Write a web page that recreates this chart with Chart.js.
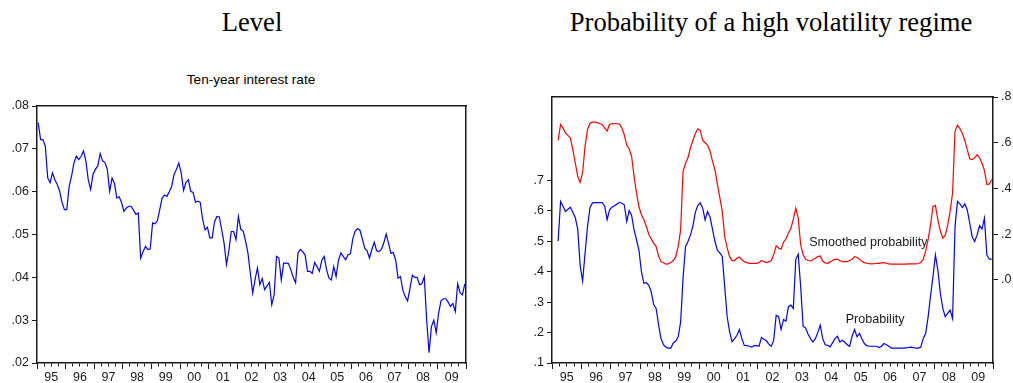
<!DOCTYPE html>
<html><head><meta charset="utf-8">
<script src="https://cdn.jsdelivr.net/npm/chart.js@4/dist/chart.umd.min.js"></script>
<style>
html,body{margin:0;padding:0;background:#fff;width:1013px;height:383px;overflow:hidden;position:relative}
.t{position:absolute;font-family:"Liberation Serif","Times New Roman",serif;font-size:26.6px;line-height:30px;color:#000;white-space:nowrap;transform:translateX(-50%)}
.s{position:absolute;font-family:"Liberation Sans",Arial,sans-serif;font-size:13.6px;line-height:16px;color:#000;white-space:nowrap;transform:translateX(-50%)}
#w1{position:absolute;left:0;top:0;width:500px;height:383px}
#w2{position:absolute;left:500px;top:0;width:513px;height:383px}
</style></head>
<body>
<div class="t" style="left:252px;top:7px">Level</div>
<div class="s" style="left:251px;top:72px">Ten-year interest rate</div>
<div class="t" style="left:771px;top:7px">Probability of a high volatility regime</div>
<div id="w1"><canvas id="c1"></canvas></div>
<div id="w2"><canvas id="c2"></canvas></div>
<script>
// ---------- data ----------
const START_YEAR = 1995;
const YEAR_LABELS = ['95','96','97','98','99','00','01','02','03','04','05','06','07','08','09'];
const RATE_TICKS = [0.02,0.03,0.04,0.05,0.06,0.07,0.08];
const PROB_TICKS = [0.1,0.2,0.3,0.4,0.5,0.6,0.7];
const SMOOTH_TICKS = [0.0,0.2,0.4,0.6,0.8];

// Ten-year interest rate, monthly Jan 1995 - Dec 2009
const interestRate = [
.0761,.0722,.0721,.0706,.0632,.0621,.0644,.0628,.0617,.0601,.0575,.0558,
.0558,.0613,.0636,.0667,.0683,.0675,.0682,.0695,.0672,.0628,.0605,.0640,
.0652,.0660,.0689,.0672,.0668,.0652,.0601,.0632,.0619,.0585,.0588,.0574,
.0554,.0562,.0566,.0566,.0557,.0547,.0550,.0445,.0460,.0472,.0465,.0466,
.0527,.0525,.0532,.0558,.0585,.0592,.0589,.0600,.0612,.0640,.0652,.0667,
.0644,.0603,.0622,.0628,.0601,.0598,.0575,.0578,.0575,.0535,.0511,.0517,
.0492,.0492,.0530,.0542,.0541,.0511,.0480,.0430,.0462,.0507,.0507,.0488,
.0542,.0512,.0508,.0485,.0457,.0410,.0363,.0395,.0422,.0383,.0397,.0371,
.0380,.0388,.0336,.0359,.0449,.0445,.0394,.0433,.0433,.0432,.0418,.0400,
.0387,.0457,.0465,.0460,.0452,.0414,.0414,.0409,.0435,.0425,.0414,.0440,
.0449,.0418,.0398,.0394,.0425,.0402,.0440,.0457,.0449,.0441,.0453,.0455,
.0490,.0508,.0514,.0510,.0490,.0468,.0462,.0445,.0465,.0482,.0462,.0460,
.0465,.0480,.0501,.0480,.0456,.0458,.0440,.0398,.0402,.0370,.0355,.0345,
.0375,.0405,.0400,.0400,.0383,.0385,.0401,.0300,.0224,.0285,.0300,.0271,
.0316,.0345,.0350,.0350,.0342,.0332,.0339,.0320,.0385,.0364,.0359,.0385
];

// Probability of high volatility regime (left axis)
const probability = [
null,null,.501,.631,.615,.598,.605,.612,.595,.578,.540,.420,
.369,.461,.548,.610,.626,.627,.627,.627,.627,.615,.571,.603,
.612,.617,.622,.628,.625,.620,.565,.601,.585,.537,.505,.470,
.400,.362,.364,.355,.334,.292,.279,.225,.180,.160,.152,.149,
.149,.166,.172,.185,.235,.380,.482,.499,.520,.550,.595,.617,
.626,.609,.570,.598,.580,.540,.500,.470,.462,.450,.350,.252,
.202,.170,.180,.191,.210,.180,.158,.157,.155,.152,.157,.157,
.155,.184,.178,.173,.162,.155,.175,.257,.252,.210,.243,.237,
.285,.290,.279,.440,.458,.351,.220,.215,.195,.180,.169,.180,
.200,.224,.180,.160,.158,.153,.166,.180,.188,.169,.175,.168,
.160,.155,.188,.210,.186,.197,.180,.164,.157,.155,.155,.155,
.155,.151,.155,.164,.160,.155,.149,.149,.149,.149,.149,.149,
.150,.151,.152,.151,.149,.149,.152,.180,.197,.250,.320,.384,
.455,.405,.330,.280,.252,.263,.274,.246,.548,.631,.623,.611,
.623,.603,.560,.515,.499,.520,.551,.540,.576,.455,.441,.441
];

// Smoothed probability (right axis)
const smoothedProbability = [
null,null,.610,.680,.665,.643,.632,.621,.570,.512,.453,.427,
.470,.585,.658,.685,.690,.690,.688,.684,.680,.665,.651,.680,
.684,.684,.683,.682,.665,.635,.590,.573,.540,.453,.380,.320,
.285,.263,.234,.200,.180,.160,.146,.105,.080,.075,.069,.070,
.076,.085,.102,.146,.219,.475,.510,.534,.578,.610,.640,.661,
.655,.610,.600,.590,.563,.520,.482,.420,.360,.300,.190,.140,
.102,.085,.085,.095,.100,.088,.080,.076,.073,.073,.073,.073,
.076,.085,.080,.076,.080,.085,.110,.149,.140,.135,.165,.180,
.205,.225,.265,.314,.270,.154,.110,.091,.085,.083,.088,.095,
.102,.105,.082,.075,.073,.078,.085,.090,.091,.085,.080,.080,
.080,.085,.091,.102,.098,.091,.082,.076,.073,.071,.070,.071,
.073,.073,.075,.076,.073,.070,.069,.069,.069,.069,.069,.069,
.069,.070,.070,.070,.070,.072,.076,.090,.125,.175,.240,.322,
.326,.263,.215,.183,.195,.240,.300,.380,.650,.677,.662,.640,
.610,.570,.530,.526,.534,.548,.535,.510,.480,.417,.420,.439
];

// ---------- helpers ----------
const monthX = (i) => START_YEAR + (i + 0.5) / 12;
const toXY = (arr) => arr.map((v, i) => ({x: monthX(i), y: v}));
const X_MIN = START_YEAR, X_MAX = START_YEAR + YEAR_LABELS.length;
const quarterTicks = [];
for (let q = 0; q <= YEAR_LABELS.length * 4; q++) quarterTicks.push({value: X_MIN + q / 4});
const FONT = {family: '"Liberation Sans", Arial, sans-serif', size: 12.5};
const INK = '#1a1a1a';
const fixW = (w) => (s) => { s.width = w; };
const fixH = (h) => (s) => { s.height = h; };
const isYear = (v) => Math.abs(v - Math.round(v)) < 1e-6;
const isMid = (v) => Math.abs(v - Math.floor(v) - 0.5) < 1e-6;

function bottomX(){
  return {
    type: 'linear', position: 'bottom', min: X_MIN, max: X_MAX,
    afterBuildTicks: (s) => { s.ticks = quarterTicks.map(t => ({value: t.value})); },
    afterFit: fixH(20),
    grid: {display: true, drawOnChartArea: false, drawTicks: true, tickLength: 6, color: INK, lineWidth: 1,
           tickBorderDash: (ctx) => (ctx.tick && isYear(ctx.tick.value)) ? [] : [3, 20]},
    border: {display: true, color: INK, width: 1.5},
    ticks: {autoSkip: false, maxRotation: 0, minRotation: 0, padding: 1, color: INK, font: FONT,
            callback: (v) => isMid(v) ? YEAR_LABELS[Math.floor(v) - START_YEAR] : ''}
  };
}
function topX(){
  return {
    type: 'linear', position: 'top', min: X_MIN, max: X_MAX, afterFit: fixH(0),
    grid: {display: true, drawOnChartArea: false, drawTicks: false},
    border: {display: true, color: INK, width: 1.5},
    ticks: {display: false}
  };
}
function yAxis(pos, min, max, tickVals, digits, width, showTicks){
  return {
    type: 'linear', position: pos, min: min, max: max,
    afterBuildTicks: (s) => { s.ticks = tickVals.map(v => ({value: v})); },
    afterFit: fixW(width),
    grid: {display: true, drawOnChartArea: false, drawTicks: showTicks, tickLength: 5, color: INK},
    border: {display: true, color: INK, width: 1.5},
    ticks: {display: showTicks, padding: 3, color: INK, font: FONT,
            callback: (v) => v.toFixed(digits).replace(/^0\./, '.')}
  };
}

const textLabels = {
  id: 'textLabels',
  afterDatasetsDraw(chart, args, opts){
    const c = chart.ctx;
    c.save();
    c.fillStyle = INK;
    c.font = '12.6px "Liberation Sans", Arial, sans-serif';
    c.textAlign = 'center'; c.textBaseline = 'middle';
    (opts.items || []).forEach(it => {
      const x = chart.scales.x.getPixelForValue(it.x);
      const y = chart.scales[it.axis].getPixelForValue(it.y);
      c.fillText(it.text, x, y);
    });
    c.restore();
  }
};

Chart.defaults.animation = false;

new Chart(document.getElementById('c1'), {
  type: 'line',
  data: {datasets: [{
    label: 'Ten-year interest rate', data: toXY(interestRate), yAxisID: 'y',
    borderColor: '#0000ff', borderWidth: 1.2, pointRadius: 0, tension: 0, fill: false
  }]},
  options: {
    responsive: true, maintainAspectRatio: false, devicePixelRatio: 1,
    layout: {padding: {top: 106, left: 0, right: 0, bottom: 0}},
    plugins: {legend: {display: false}, tooltip: {enabled: false}},
    scales: {
      x: bottomX(), xt: topX(),
      y: yAxis('left', 0.02, 0.08, RATE_TICKS, 2, 37, true),
      yr: yAxis('right', 0.02, 0.08, [], 2, 34, false)
    }
  }
});

new Chart(document.getElementById('c2'), {
  type: 'line',
  data: {datasets: [
    {label: 'Smoothed probability', data: toXY(smoothedProbability), yAxisID: 'yr',
     borderColor: '#ff0000', borderWidth: 1.2, pointRadius: 0, tension: 0, fill: false},
    {label: 'Probability', data: toXY(probability), yAxisID: 'y',
     borderColor: '#0000ff', borderWidth: 1.2, pointRadius: 0, tension: 0, fill: false}
  ]},
  plugins: [textLabels],
  options: {
    responsive: true, maintainAspectRatio: false, devicePixelRatio: 1,
    layout: {padding: {top: 97, left: 0, right: 0, bottom: 0}},
    plugins: {legend: {display: false}, tooltip: {enabled: false},
      textLabels: {items: [
        {text: 'Smoothed probability', x: 2005.76, y: 0.162, axis: 'yr'},
        {text: 'Probability', x: 2005.99, y: 0.244, axis: 'y'}
      ]}},
    scales: {
      x: bottomX(), xt: topX(),
      y: yAxis('left', 0.1, 0.974, PROB_TICKS, 1, 52, true),
      yr: yAxis('right', -0.363, 0.8, SMOOTH_TICKS, 1, 20, true)
    }
  }
});
</script>
</body></html>
